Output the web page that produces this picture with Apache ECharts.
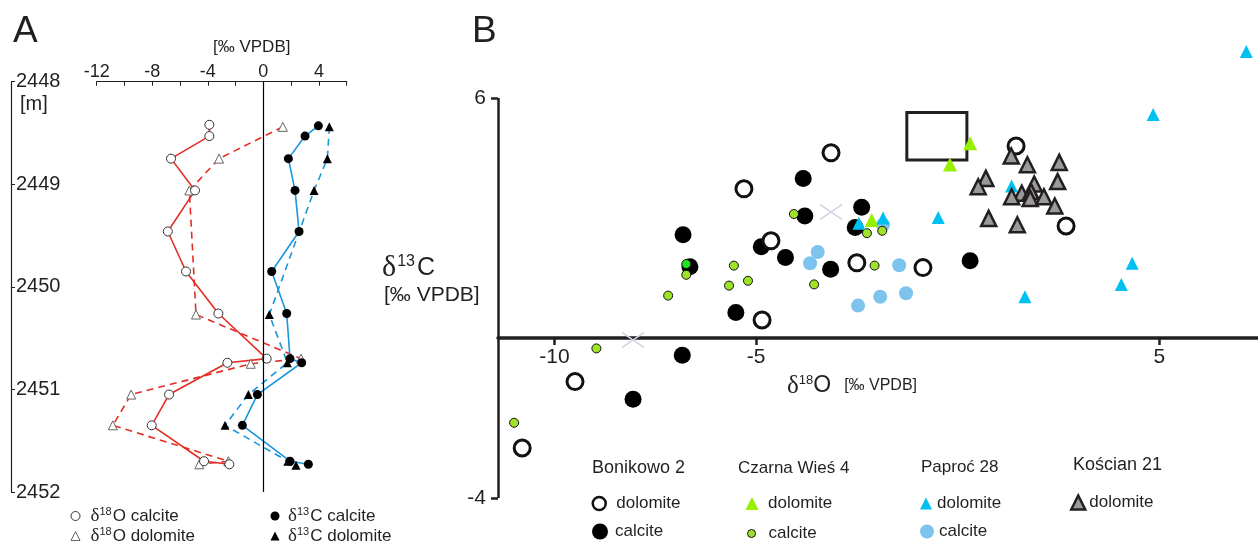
<!DOCTYPE html>
<html>
<head>
<meta charset="utf-8">
<title>isotopes</title>
<script src="https://cdn.jsdelivr.net/npm/echarts@6/dist/echarts.min.js"></script>
<style>html,body{margin:0;padding:0;background:#fff;}</style>
</head>
<body>
<div id="main" style="width:1258px;height:544px;"></div>
<script>
// ---- panel A : [value ‰, depth m] ----
var o18Calcite = [[-3.89,2448.42],[-3.89,2448.53],[-6.65,2448.75],[-4.92,2449.06],[-6.88,2449.46],[-5.57,2449.85],
  [-3.24,2450.26],[0.24,2450.70],[-2.59,2450.74],[-6.79,2451.05],[-8.04,2451.35],[-4.27,2451.70],[-2.45,2451.73]];
var o18Dolomite = [[1.40,2448.44],[-3.19,2448.75],[-5.33,2449.06],[-4.85,2450.27],[2.71,2450.70],[-0.91,2450.75],
  [-9.52,2451.05],[-10.84,2451.35],[-2.52,2451.70],[-4.61,2451.73]];
var c13Calcite = [[3.96,2448.43],[3.00,2448.53],[1.80,2448.75],[2.28,2449.06],[2.57,2449.46],[0.60,2449.85],
  [1.68,2450.26],[1.92,2450.70],[2.76,2450.74],[-0.43,2451.05],[-1.51,2451.35],[1.92,2451.70],[3.24,2451.73]];
var c13Dolomite = [[4.75,2448.44],[4.61,2448.75],[3.65,2449.06],[0.43,2450.27],[1.73,2450.74],[-1.08,2451.05],
  [-2.76,2451.35],[1.76,2451.70],[2.35,2451.74]];

// ---- panel B : [d18O, d13C] ----
var bonikowoDolomite = [[-3.14,4.63],[1.45,4.80],[-5.30,3.73],[-4.63,2.43],[-2.50,1.88],[-0.86,1.76],[2.69,2.80],
  [-4.85,0.45],[-9.49,-1.09],[-10.80,-2.75]];
var bonikowoCalcite = [[-3.83,3.99],[-3.79,3.05],[-2.38,3.27],[-2.54,2.76],[-6.81,2.58],[-4.87,2.28],[-4.27,2.01],
  [-6.64,1.78],[-3.15,1.72],[0.31,1.93],[-5.50,0.64],[-6.83,-0.43],[-8.05,-1.53]];
var czarnaDolomite = [[0.31,4.87],[-0.19,4.34],[-2.13,2.95]];
var czarnaCalcite = [[-4.06,3.10],[-2.25,2.62],[-1.87,2.68],[-6.73,1.58],[-5.55,1.81],[-2.06,1.81],[-5.20,1.43],
  [-5.67,1.31],[-3.56,1.34],[-7.18,1.06],[-8.96,-0.26],[-11.00,-2.12]];
var czarnaCalciteBright = [[-6.73,1.85]];
var paprocDolomite = [[7.16,7.16],[4.85,5.59],[1.34,3.80],[-0.48,3.01],[-2.45,2.87],[-1.85,3.00],[4.33,1.87],
  [4.06,1.34],[1.67,1.03]];
var paprocCalcite = [[-3.47,2.15],[-3.66,1.87],[-1.45,1.82],[-1.92,1.03],[-1.28,1.12],[-2.47,0.81],[-1.85,2.83]];
var koscianDolomite = [[1.33,4.55],[1.73,4.33],[2.52,4.39],[0.70,3.99],[0.51,3.78],[2.48,3.91],[1.90,3.85],
  [1.59,3.62],[1.34,3.53],[1.82,3.66],[1.80,3.49],[2.14,3.53],[2.41,3.30],[0.77,2.99],[1.48,2.83]];
var crossMarks = [[-3.14,3.15],[-8.05,-0.05]];
var boxRange = [[-1.26,5.64],[0.23,4.45]];

var xTicksB = [-10, -5, 5];
var yTicksB = [6, -4];
var yAxisSpanB = [-4, 6];

var FONT = '"Liberation Sans", Arial, sans-serif';
var INK = '#231f20';
var RED = '#e42d24', BLUE = '#1b96dc';

var chart = echarts.init(document.getElementById('main'));

var supRich = {
  g: {fontFamily: '"Liberation Serif", serif', fontSize: 19, color: INK},
  s: {fontFamily: FONT, fontSize: 11, lineHeight: 11, padding: [0, 1, 9, 0], color: INK},
  t: {fontFamily: FONT, fontSize: 17, color: INK}
};
function supFmt(name) {
  return name.replace(/^δ(\d+)(.*)$/, '{g|δ}{s|$1}{t|$2}');
}

// one legend per entry so each sits where the figure puts it
function legendAt(name, cx, cy, size, textX, opts) {
  var left = cx - size / 2;
  var pad = textX - (left + size + 5);
  return {
    data: [{name: name, icon: opts.icon}],
    left: left, top: cy - Math.max(size, 20) / 2,
    padding: 0, itemWidth: size, itemHeight: size,
    selectedMode: false,
    formatter: opts.fmt,
    itemStyle: opts.itemStyle,
    lineStyle: {opacity: 0},
    textStyle: {fontFamily: FONT, fontSize: 17, color: INK, padding: [0, 0, 0, pad], rich: supRich}
  };
}
function shortName(n) { return n.split(' ').pop(); }

var legends = [
  legendAt('δ18O calcite', 75, 516, 9, 90, {icon: 'circle', fmt: supFmt, itemStyle: {color: '#fff', borderColor: '#333', borderWidth: 1}}),
  legendAt('δ18O dolomite', 75, 536, 9, 90, {icon: 'triangle', fmt: supFmt, itemStyle: {color: '#fff', borderColor: '#666', borderWidth: 1}}),
  legendAt('δ13C calcite', 275, 516, 9, 288, {icon: 'circle', fmt: supFmt, itemStyle: {color: '#000', borderWidth: 0}}),
  legendAt('δ13C dolomite', 275, 536, 9, 288, {icon: 'triangle', fmt: supFmt, itemStyle: {color: '#000', borderWidth: 0}}),
  legendAt('Bonikowo 2 dolomite', 598, 505, 13, 615, {icon: 'circle', fmt: shortName, itemStyle: {color: '#fff', borderColor: '#111', borderWidth: 2.5}}),
  legendAt('Bonikowo 2 calcite', 600, 533, 16, 615, {icon: 'circle', fmt: shortName, itemStyle: {color: '#000', borderWidth: 0}}),
  legendAt('Czarna Wieś 4 dolomite', 752, 505, 13, 768, {icon: 'triangle', fmt: shortName, itemStyle: {color: '#97f000', borderWidth: 0}}),
  legendAt('Czarna Wieś 4 calcite', 751, 535, 8, 768, {icon: 'circle', fmt: shortName, itemStyle: {color: '#9ee32a', borderColor: '#111', borderWidth: 1}}),
  legendAt('Paproć 28 dolomite', 926, 505, 12, 937, {icon: 'triangle', fmt: shortName, itemStyle: {color: '#00bff3', borderWidth: 0}}),
  legendAt('Paproć 28 calcite', 927, 533, 14, 939, {icon: 'circle', fmt: shortName, itemStyle: {color: '#7cc3ee', borderWidth: 0}}),
  legendAt('Kościan 21 dolomite', 1077, 504, 14, 1088, {icon: 'triangle', fmt: shortName, itemStyle: {color: '#9a9a9a', borderColor: INK, borderWidth: 2.5}})
];

function txt(x, y, text, size, extra) {
  var st = {text: text, fontFamily: FONT, fontSize: size, fill: INK, align: 'left', verticalAlign: 'middle'};
  if (extra) for (var k in extra) st[k] = extra[k];
  return {type: 'text', x: x, y: y, silent: true, style: st};
}

var yRich = {
  g: {fontFamily: '"Liberation Serif", serif', fontSize: 30, color: INK},
  s: {fontFamily: FONT, fontSize: 16, lineHeight: 16, padding: [0, 2, 13, 1], color: INK},
  t: {fontFamily: FONT, fontSize: 25, color: INK}
};
var xRich = {
  g: {fontFamily: '"Liberation Serif", serif', fontSize: 25, color: INK},
  s: {fontFamily: FONT, fontSize: 13, lineHeight: 13, padding: [0, 0, 11, 0], color: INK},
  t: {fontFamily: FONT, fontSize: 23, color: INK},
  u: {fontFamily: FONT, fontSize: 16, color: INK, padding: [0, 0, 0, 13]}
};

var option = {
  animation: false,
  backgroundColor: '#fff',
  textStyle: {fontFamily: FONT, color: INK},
  legend: legends,
  graphic: [
    txt(13, 32, 'A', 37),
    txt(472, 32, 'B', 37),
    txt(20, 104, '[m]', 20),
    txt(213, 47, '[‰ VPDB]', 17),
    txt(382, 268, '{g|δ}{s|13}{t|C}', 24, {rich: yRich}),
    txt(384, 295, '[‰ VPDB]', 21),
    txt(787, 386, '{g|δ}{s|18}{t|O}{u|[‰ VPDB]}', 24, {rich: xRich}),
    txt(592, 468, 'Bonikowo 2', 18),
    txt(738, 468, 'Czarna Wieś 4', 17),
    txt(921, 467, 'Paproć 28', 17),
    txt(1073, 465, 'Kościan 21', 18)
  ],
  grid: [
    {left: 96.7, top: 81.7, width: 250, height: 410.3},
    {left: 498, top: 38, width: 760, height: 460}
  ],
  xAxis: [
    {
      gridIndex: 0, type: 'value', position: 'top', min: -12, max: 6, interval: 2,
      axisLine: {onZero: false, lineStyle: {color: INK, width: 1.2}},
      axisTick: {inside: true, length: 4, lineStyle: {color: INK}},
      axisLabel: {margin: 1, fontSize: 18, color: INK, fontFamily: FONT,
        formatter: function (v) { return v % 4 === 0 ? String(v) : ''; }},
      splitLine: {show: false}
    },
    {
      // drawn through d13C = 0: the grid spans -4..7.5 at 40 px per unit
      gridIndex: 1, type: 'value', min: -11.4, max: 7.45, position: 'bottom', offset: -160,
      axisLine: {onZero: false, lineStyle: {color: INK, width: 3.5}},
      axisTick: {customValues: xTicksB, length: 7, lineStyle: {color: INK, width: 2.5}},
      axisLabel: {customValues: xTicksB, margin: 9, fontSize: 21, color: INK, fontFamily: FONT},
      splitLine: {show: false}
    }
  ],
  yAxis: [
    {
      gridIndex: 0, type: 'value', inverse: true, min: 2448, max: 2452, interval: 1,
      position: 'left', offset: 85.7,
      axisLine: {show: true, onZero: false, lineStyle: {color: INK, width: 1.2}},
      axisTick: {show: true, inside: true, length: 4, lineStyle: {color: INK}},
      axisLabel: {inside: true, margin: 5, fontSize: 20, color: INK, fontFamily: FONT,
        formatter: function (v) { return String(v); }},
      splitLine: {show: false}
    },
    {
      gridIndex: 1, type: 'value', min: -4, max: 7.5,
      axisLine: {show: false, onZero: false},
      axisTick: {show: true, customValues: yTicksB, length: 7, lineStyle: {color: INK, width: 2.5}},
      axisLabel: {customValues: yTicksB, margin: 12, fontSize: 21, color: INK, fontFamily: FONT},
      splitLine: {show: false}
    }
  ],
  series: [
    // ---------- A ----------
    {
      name: 'δ18O dolomite', type: 'line', xAxisIndex: 0, yAxisIndex: 0, data: o18Dolomite,
      symbol: 'triangle', symbolSize: 9, showSymbol: true, silent: true,
      itemStyle: {color: '#fff', borderColor: '#666', borderWidth: 1},
      lineStyle: {color: RED, width: 1.6, type: [7, 5]}
    },
    {
      name: 'δ18O calcite', type: 'line', xAxisIndex: 0, yAxisIndex: 0, data: o18Calcite,
      symbol: 'circle', symbolSize: 9, showSymbol: true, silent: true,
      itemStyle: {color: '#fff', borderColor: '#333', borderWidth: 1},
      lineStyle: {color: RED, width: 1.6},
      markLine: {silent: true, symbol: 'none', label: {show: false},
        lineStyle: {color: '#000', width: 1.2, type: 'solid'}, data: [{xAxis: 0}]}
    },
    {
      name: 'δ13C dolomite', type: 'line', xAxisIndex: 0, yAxisIndex: 0, data: c13Dolomite,
      symbol: 'triangle', symbolSize: 9, showSymbol: true, silent: true,
      itemStyle: {color: '#000', borderWidth: 0},
      lineStyle: {color: BLUE, width: 1.6, type: [7, 5]}
    },
    {
      name: 'δ13C calcite', type: 'line', xAxisIndex: 0, yAxisIndex: 0, data: c13Calcite,
      symbol: 'circle', symbolSize: 9, showSymbol: true, silent: true,
      itemStyle: {color: '#000', borderWidth: 0},
      lineStyle: {color: BLUE, width: 1.6}
    },
    // ---------- B ----------
    {
      name: 'Paproć 28 calcite', type: 'scatter', xAxisIndex: 1, yAxisIndex: 1, data: paprocCalcite,
      symbol: 'circle', symbolSize: 14, silent: true, itemStyle: {color: '#7cc3ee', opacity: 1},
      markLine: {silent: true, symbol: 'none', label: {show: false},
        lineStyle: {color: INK, width: 2.5, type: 'solid'},
        data: [[{coord: [-11.4, yAxisSpanB[0]]}, {coord: [-11.4, yAxisSpanB[1]]}]]},
      markArea: {silent: true, itemStyle: {color: 'rgba(0,0,0,0)', borderColor: INK, borderWidth: 3},
        data: [[{xAxis: boxRange[0][0], yAxis: boxRange[0][1]}, {xAxis: boxRange[1][0], yAxis: boxRange[1][1]}]]}
    },
    {
      name: 'Bonikowo 2 calcite', type: 'scatter', xAxisIndex: 1, yAxisIndex: 1, data: bonikowoCalcite,
      symbol: 'circle', symbolSize: 17, silent: true, itemStyle: {color: '#000', opacity: 1}
    },
    {
      name: 'Bonikowo 2 dolomite', type: 'scatter', xAxisIndex: 1, yAxisIndex: 1, data: bonikowoDolomite,
      symbol: 'circle', symbolSize: 16, silent: true,
      itemStyle: {color: '#fff', borderColor: '#111', borderWidth: 3, opacity: 1}
    },
    {
      name: 'Czarna Wieś 4 calcite', type: 'scatter', xAxisIndex: 1, yAxisIndex: 1, data: czarnaCalcite,
      symbol: 'circle', symbolSize: 9, silent: true,
      itemStyle: {color: '#9ee32a', borderColor: '#111', borderWidth: 1, opacity: 1}
    },
    {
      name: 'Czarna Wieś 4 calcite bright', type: 'scatter', xAxisIndex: 1, yAxisIndex: 1, data: czarnaCalciteBright,
      symbol: 'circle', symbolSize: 9, silent: true,
      itemStyle: {color: '#1ee61e', borderColor: '#111', borderWidth: 1, opacity: 1}
    },
    {
      name: 'Czarna Wieś 4 dolomite', type: 'scatter', xAxisIndex: 1, yAxisIndex: 1, data: czarnaDolomite,
      symbol: 'triangle', symbolSize: 14, silent: true, itemStyle: {color: '#97f000', opacity: 1}
    },
    {
      name: 'Paproć 28 dolomite', type: 'scatter', xAxisIndex: 1, yAxisIndex: 1, data: paprocDolomite,
      symbol: 'triangle', symbolSize: 13, silent: true, itemStyle: {color: '#00bff3', opacity: 1}
    },
    {
      name: 'Kościan 21 dolomite', type: 'scatter', xAxisIndex: 1, yAxisIndex: 1, data: koscianDolomite,
      symbol: 'triangle', symbolSize: 15, silent: true,
      itemStyle: {color: '#9a9a9a', borderColor: INK, borderWidth: 2.5, opacity: 1}
    },
    {
      name: 'cross', type: 'scatter', xAxisIndex: 1, yAxisIndex: 1, data: crossMarks,
      symbol: 'path://M0,0L22,15M22,0L0,15', symbolSize: [22, 15], silent: true,
      itemStyle: {color: 'none', borderColor: '#d6d0e4', borderWidth: 1.5, opacity: 1}
    }
  ]
};
chart.setOption(option);
</script>
</body>
</html>
